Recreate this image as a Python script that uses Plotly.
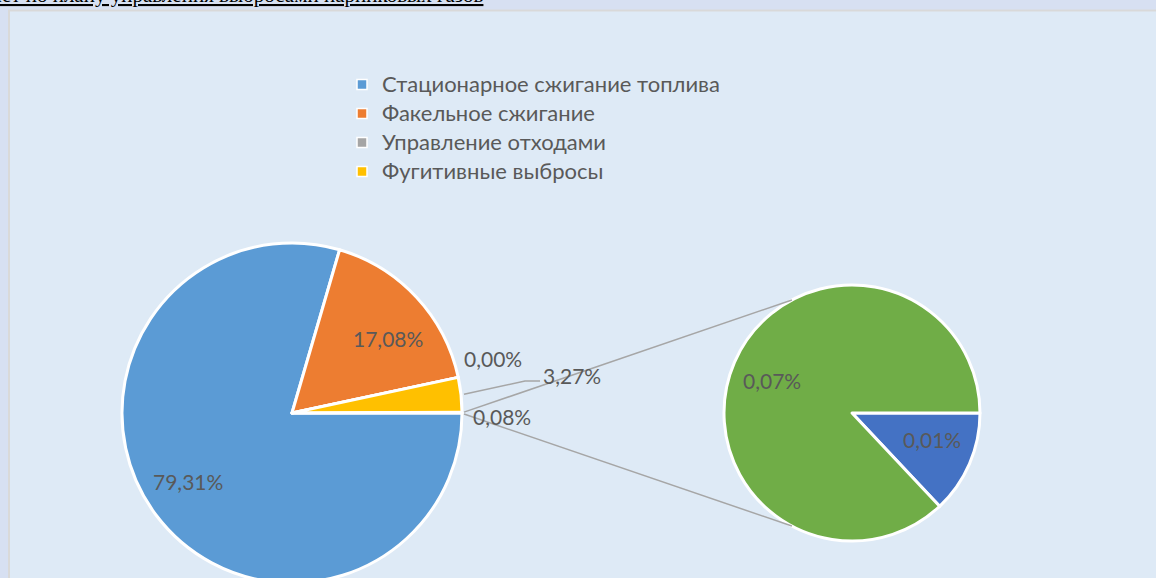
import math
import plotly.graph_objects as go

# ---------------- data ----------------
title_text = "Отчет по плану управления выбросами парниковых газов"
categories = ["Стационарное сжигание топлива", "Факельное сжигание",
              "Управление отходами", "Фугитивные выбросы"]
category_share = [79.31, 17.08, 0.00, 3.27]          # % of total
other_label = "Прочие (вторичная диаграмма)"
other_share = 0.08                                   # % grouped into the second pie
secondary_labels = ["Прочие выбросы 1", "Прочие выбросы 2"]
secondary_share = [0.0104, 0.0696]                   # % (displayed as 0,01% / 0,07%)

# ---------------- styles ----------------
W, H = 1156, 600
main_colors = ["#5B9BD5", "#ED7D31", "#A5A5A5", "#FFC000", "#A5A5A5"]
sec_colors = ["#4472C4", "#70AD47"]
label_color = "#595959"
label_font = "Lato"
line_gray = "#A6A6A6"

main_c = (292, 413, 170)   # centre x, centre y, radius (px)
sec_c = (852, 413, 128)

def px(x):
    return x / W

def py(y):
    return 1 - y / H

def dom(c):
    cx, cy, r = c
    return dict(x=[px(cx - r), px(cx + r)], y=[py(cy + r), py(cy - r)])

def fmt(v):
    return f"{v:.2f}".replace(".", ",") + "%"

main_values = category_share + [other_share]
main_labels = categories + [other_label]

fig = go.Figure()

fig.add_trace(go.Pie(
    labels=main_labels, values=main_values, sort=False, direction="clockwise",
    rotation=90, domain=dom(main_c), textinfo="none", hoverinfo="label+value",
    marker=dict(colors=main_colors, line=dict(color="white", width=3)),
    showlegend=False,
))
fig.add_trace(go.Pie(
    labels=secondary_labels, values=secondary_share, sort=False, direction="clockwise",
    rotation=90, domain=dom(sec_c), textinfo="none", hoverinfo="label+value",
    marker=dict(colors=sec_colors, line=dict(color="white", width=3)),
    showlegend=False,
))

# legend entries (only the four categories, as in the original)
for name, col in zip(categories, main_colors[:4]):
    fig.add_trace(go.Scatter(
        x=[None], y=[None], mode="markers",
        name=f"<span style='font-size:22px'>{name}</span>",
        marker=dict(symbol="square", size=10, color=col, line=dict(color="white", width=1.5)),
        showlegend=True,
    ))

# ---------------- labels ----------------
label_texts = [fmt(v) for v in main_values] + [fmt(v) for v in secondary_share]
label_pos = [(188, 481), (388, 338), (493, 358), (572, 375), (502, 416),
             (932, 440), (772, 380)]
annotations = []
for t, (x, y) in zip(label_texts, label_pos):
    annotations.append(dict(text=t, x=px(x), y=py(y), xref="paper", yref="paper",
                            showarrow=False, xanchor="center", yanchor="middle",
                            font=dict(family=label_font, size=21, color=label_color)))

annotations.append(dict(text="<u>" + title_text + "</u>", x=px(486), y=py(9),
                        xref="paper", yref="paper", showarrow=False,
                        xanchor="right", yanchor="bottom",
                        font=dict(family="Liberation Serif", size=21, color="black")))

# ---------------- shapes ----------------
shapes = [dict(type="rect", xref="paper", yref="paper", layer="below",
               x0=px(9), x1=1.02, y0=-0.05, y1=py(10.5),
               fillcolor="#DEEAF6", line=dict(color="#D9D9D9", width=2))]

total = sum(main_values)
other_ang = math.radians(360 * other_share / total)
yellow_mid = math.radians(360 * (other_share + category_share[3] / 2) / total)
mcx, mcy, mr = main_c
scx, scy, sr = sec_c
conn_ang = math.radians(118)
up_start = (mcx + mr * math.cos(other_ang), mcy - mr * math.sin(other_ang))
lo_start = (mcx + mr, mcy + 1)
up_end = (scx + sr * math.cos(conn_ang), scy - sr * math.sin(conn_ang))
lo_end = (scx + sr * math.cos(conn_ang), scy + sr * math.sin(conn_ang))
for a, b in [(up_start, up_end), (lo_start, lo_end)]:
    shapes.append(dict(type="line", xref="paper", yref="paper",
                       x0=px(a[0] + 2), y0=py(a[1]), x1=px(b[0]), y1=py(b[1]),
                       line=dict(color=line_gray, width=1.5)))

# leader line for the 3,27% label
ls = (mcx + (mr + 3) * math.cos(yellow_mid), mcy - (mr + 3) * math.sin(yellow_mid))
shapes.append(dict(type="path", xref="paper", yref="paper",
                   path=f"M{px(ls[0])},{py(ls[1])} L{px(525)},{py(381)} L{px(540)},{py(381)}",
                   line=dict(color=line_gray, width=1.5)))

fig.update_layout(
    width=W, height=H,
    margin=dict(l=0, r=0, t=0, b=0),
    paper_bgcolor="#D7E0F2", plot_bgcolor="rgba(0,0,0,0)",
    xaxis=dict(visible=False), yaxis=dict(visible=False),
    annotations=annotations, shapes=shapes,
    legend=dict(x=px(342), y=py(65), xanchor="left", yanchor="top",
                bgcolor="rgba(0,0,0,0)",
                font=dict(family=label_font, size=20, color=label_color)),
)

fig.write_html("out.html", config={"displayModeBar": False},
               post_script="document.body.style.margin='0';"
                           "document.body.style.overflow='hidden';"
                           "document.documentElement.style.overflow='hidden';")
